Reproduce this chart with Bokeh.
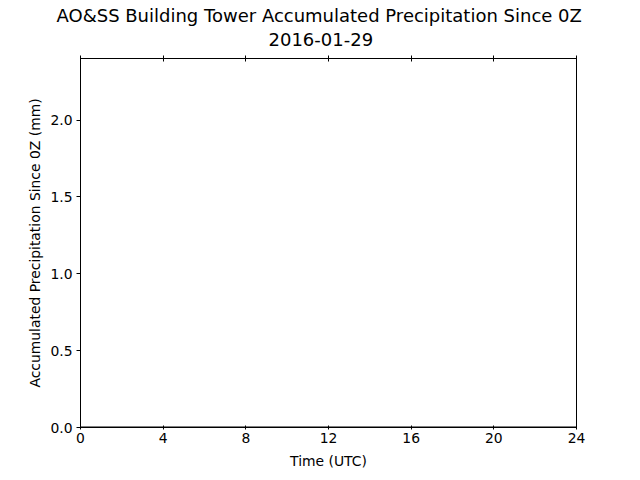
from bokeh.plotting import figure
from bokeh.models import Range1d, FixedTicker, LinearAxis, NumeralTickFormatter, Title
from bokeh.embed import file_html
from bokeh.resources import INLINE

# Data
time_utc = [0, 3, 6, 9, 12, 15, 18, 21, 24]
precip_mm = [0.0, 0.0, 0.0, 0.0, 0.0, 0.0, 0.0, 0.0, 0.0]
x_ticks = [0, 4, 8, 12, 16, 20, 24]
y_ticks = [0.0, 0.5, 1.0, 1.5, 2.0]
title_line1 = "AO&SS Building Tower Accumulated Precipitation Since 0Z"
title_line2 = "2016-01-29"

FONT = "DejaVu Sans"

p = figure(frame_width=496, frame_height=369,
           x_range=Range1d(0, 24), y_range=Range1d(0, 2.4),
           output_backend="svg", toolbar_location=None,
           min_border_left=80, min_border_right=60,
           min_border_top=58, min_border_bottom=50,
           x_axis_location=None, y_axis_location=None)

p.xgrid.visible = False
p.ygrid.visible = False
p.outline_line_color = "black"
p.outline_line_width = 1
p.background_fill_color = "white"
p.border_fill_color = "white"

p.line(time_utc, precip_mm, line_color="black", line_width=2)

# bottom axis
xb = LinearAxis(ticker=FixedTicker(ticks=x_ticks), axis_label="Time (UTC)")
xb.major_tick_in = 2
xb.major_tick_out = 2
xb.minor_tick_line_color = None
xb.major_label_standoff = 3
xb.major_label_text_font = FONT
xb.major_label_text_font_size = "13.9px"
xb.major_label_text_color = "black"
xb.axis_label_text_font = FONT
xb.axis_label_text_font_size = "13.9px"
xb.axis_label_text_font_style = "normal"
xb.axis_label_text_color = "black"
xb.axis_label_standoff = 7
xb.axis_line_color = "black"
xb.major_tick_line_color = "black"
p.add_layout(xb, "below")

# left axis
yl = LinearAxis(ticker=FixedTicker(ticks=y_ticks),
                axis_label="Accumulated Precipitation Since 0Z (mm)",
                formatter=NumeralTickFormatter(format="0.0"))
yl.major_tick_in = 0
yl.major_tick_out = 4
yl.minor_tick_line_color = None
yl.major_label_standoff = 4
yl.major_label_text_font = FONT
yl.major_label_text_font_size = "13.9px"
yl.major_label_text_color = "black"
yl.axis_label_text_font = FONT
yl.axis_label_text_font_size = "13.9px"
yl.axis_label_text_font_style = "normal"
yl.axis_label_text_color = "black"
yl.axis_label_standoff = 4
yl.axis_line_color = "black"
yl.major_tick_line_color = "black"
p.add_layout(yl, "left")

# top axis (ticks only)
xt = LinearAxis(ticker=FixedTicker(ticks=x_ticks),
                major_label_overrides={t: "" for t in x_ticks})
xt.major_tick_in = 3
xt.major_tick_out = 3
xt.minor_tick_line_color = None
xt.major_label_standoff = 0
xt.axis_line_color = "black"
xt.major_tick_line_color = "black"
p.add_layout(xt, "above")

t2 = Title(text=title_line2, align="left", text_font=FONT,
           text_font_size="18px", text_font_style="normal",
           text_color="black", standoff=20, offset=188)
p.add_layout(t2, "above")
t1 = Title(text=title_line1, align="left", text_font=FONT,
           text_font_size="18px", text_font_style="normal",
           text_color="black", standoff=-10, offset=-24)
p.add_layout(t1, "above")

open("out.html", "w").write(file_html(p, INLINE))
